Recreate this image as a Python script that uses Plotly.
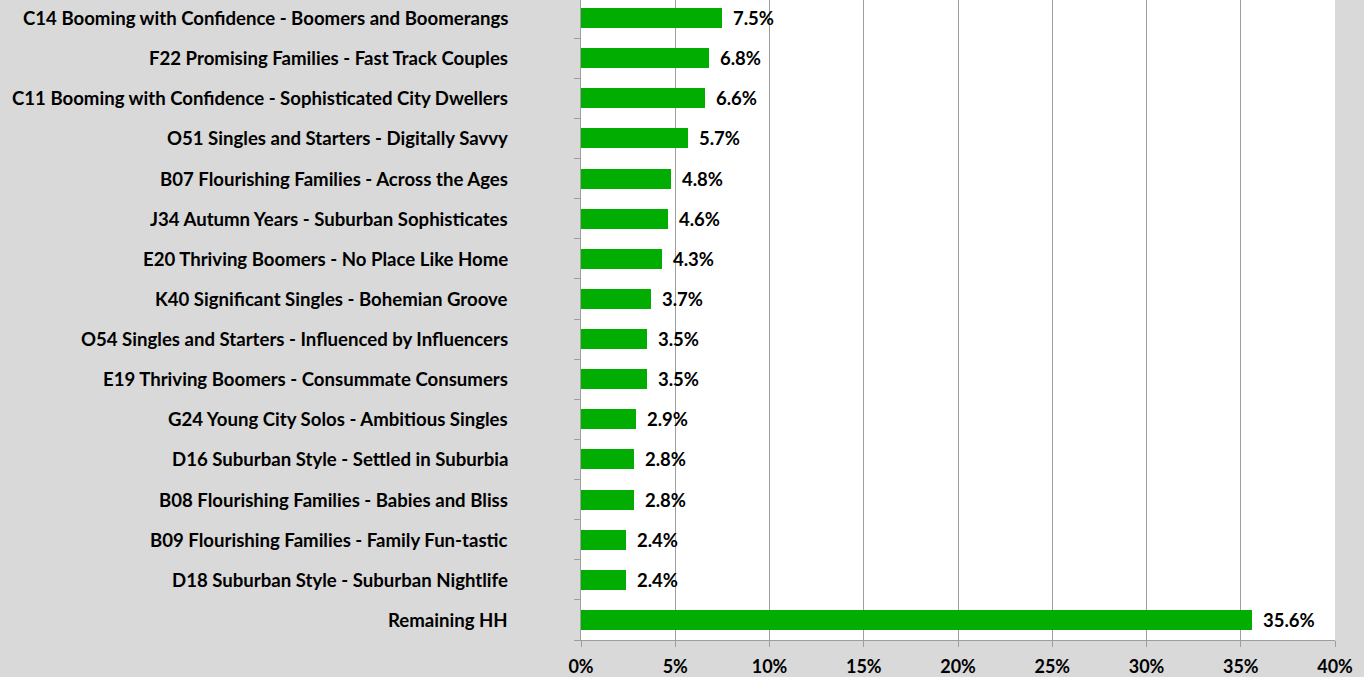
import plotly.graph_objects as go

segments = [
    "C14 Booming with Confidence - Boomers and Boomerangs",
    "F22 Promising Families - Fast Track Couples",
    "C11 Booming with Confidence - Sophisticated City Dwellers",
    "O51 Singles and Starters - Digitally Savvy",
    "B07 Flourishing Families - Across the Ages",
    "J34 Autumn Years - Suburban Sophisticates",
    "E20 Thriving Boomers - No Place Like Home",
    "K40 Significant Singles - Bohemian Groove",
    "O54 Singles and Starters - Influenced by Influencers",
    "E19 Thriving Boomers - Consummate Consumers",
    "G24 Young City Solos - Ambitious Singles",
    "D16 Suburban Style - Settled in Suburbia",
    "B08 Flourishing Families - Babies and Bliss",
    "B09 Flourishing Families - Family Fun-tastic",
    "D18 Suburban Style - Suburban Nightlife",
    "Remaining HH",
]
shares = [7.5, 6.8, 6.6, 5.7, 4.8, 4.6, 4.3, 3.7, 3.5, 3.5, 2.9, 2.8, 2.8, 2.4, 2.4, 35.6]
x_ticks = [0, 5, 10, 15, 20, 25, 30, 35, 40]
x_tick_labels = [f"{t}%" for t in x_ticks]

FONT = "Lato, Calibri, sans-serif"
GREEN = "#00AD00"
positions = list(range(len(segments)))

fig = go.Figure()
fig.add_trace(go.Bar(
    x=shares,
    y=positions,
    orientation="h",
    width=0.5,
    marker=dict(color=GREEN, line=dict(width=0)),
    hoverinfo="skip",
))

annotations = []
# value labels to the right of each bar
for p, v in zip(positions, shares):
    annotations.append(dict(
        x=v, y=p, xref="x", yref="y", text=f"{v:.1f}%",
        showarrow=False, xanchor="left", yanchor="middle", xshift=9,
        font=dict(family=FONT, size=18.5, color="#000000", weight="bold"),
    ))
# category labels in the left margin
for p, name in zip(positions, segments):
    annotations.append(dict(
        x=0, y=p, xref="x", yref="y", text=name,
        showarrow=False, xanchor="right", yanchor="middle", xshift=-71,
        font=dict(family=FONT, size=18.6, color="#000000", weight="bold"),
    ))

fig.update_layout(
    width=1364,
    height=677,
    margin=dict(l=581, r=29, t=0, b=37),
    paper_bgcolor="#D9D9D9",
    plot_bgcolor="#FFFFFF",
    showlegend=False,
    bargap=0,
    annotations=annotations,
    xaxis=dict(
        range=[0, 40],
        tickvals=x_ticks,
        ticktext=x_tick_labels,
        showgrid=True,
        gridcolor="#9E9E9E",
        gridwidth=1,
        zeroline=False,
        showline=True,
        linecolor="#9E9E9E",
        ticks="outside",
        ticklen=6,
        tickcolor="#9E9E9E",
        ticklabelstandoff=4,
        tickfont=dict(family=FONT, size=18, color="#000000", weight="bold"),
        fixedrange=True,
    ),
    yaxis=dict(
        range=[15.5, -0.45],
        tickvals=[i + 0.5 for i in positions],
        ticktext=["" for _ in positions],
        showgrid=False,
        zeroline=False,
        showline=True,
        linecolor="#9E9E9E",
        ticks="outside",
        ticklen=6,
        tickcolor="#9E9E9E",
        fixedrange=True,
    ),
)

fig.write_html("out.html", config={"displayModeBar": False})
